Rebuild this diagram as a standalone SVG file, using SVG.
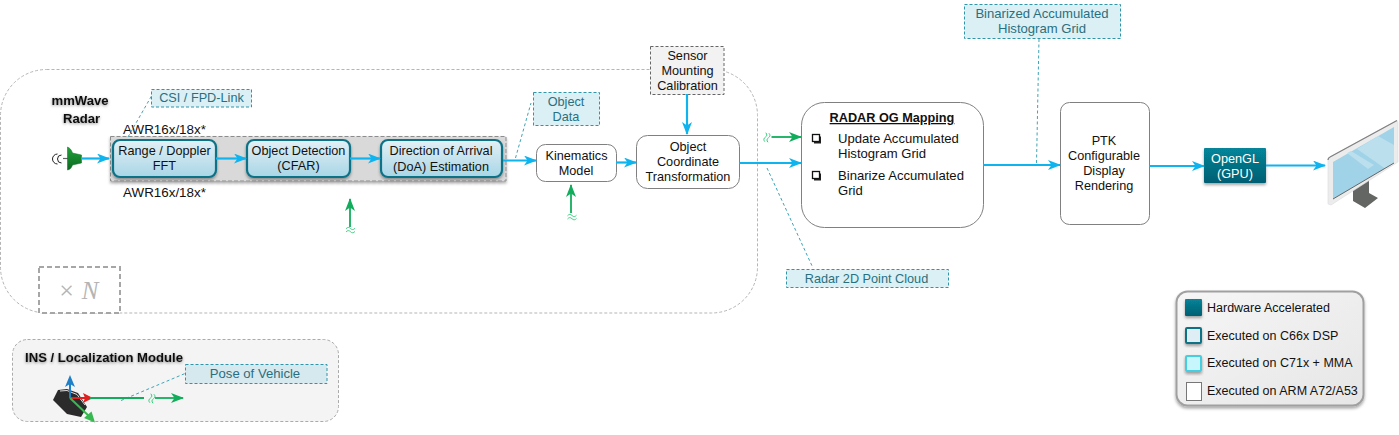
<svg xmlns="http://www.w3.org/2000/svg" width="1399" height="435" viewBox="0 0 1399 435">
<style>
text{font-family:"Liberation Sans",Arial,sans-serif;font-size:12.7px;fill:#111;text-anchor:middle}
.l{text-anchor:start}
.t{fill:#2a6f7f}
.a{font-size:13.4px}
.m{font-size:13.1px}
.k{font-size:12.5px}
.note{fill:#daf0f5;stroke:#2f95a8;stroke-width:1;stroke-dasharray:3 2}
.lead{fill:none;stroke:#3fa3b5;stroke-width:1;stroke-dasharray:3 2.5}
.w{fill:#fff;stroke:#808080;stroke-width:1}
.dsp{fill:url(#dsp);stroke:#0f7286;stroke-width:2.2;filter:url(#sh)}
.c{fill:none;stroke:#0fb4ee;stroke-width:2.2;marker-end:url(#ab)}
.g{fill:none;stroke:#12ad5c;stroke-width:1.8;marker-end:url(#ag)}
.wv{fill:none;stroke:#2fcb78;stroke-width:.9}
.b{font-weight:bold}
</style>
<defs>
<linearGradient id="dsp" x1="0" y1="0" x2="0" y2="1"><stop offset="0" stop-color="#e3f0f5"/><stop offset="1" stop-color="#a8d6e6"/></linearGradient>
<linearGradient id="gpu" x1="0" y1="0" x2="0" y2="1"><stop offset="0" stop-color="#078398"/><stop offset="1" stop-color="#045f72"/></linearGradient>
<linearGradient id="leg" x1="0" y1="0" x2="1" y2="1"><stop offset="0" stop-color="#f6f6f6"/><stop offset="1" stop-color="#e6e6e6"/></linearGradient>
<linearGradient id="horn" x1="0" y1="0" x2="0" y2="1"><stop offset="0" stop-color="#22a03a"/><stop offset="1" stop-color="#0b6a20"/></linearGradient>
<filter id="sh" x="-20%" y="-20%" width="140%" height="150%"><feDropShadow dx="0" dy="2" stdDeviation="1.5" flood-color="#000" flood-opacity=".35"/></filter>
<filter id="ts" x="-10%" y="-30%" width="120%" height="170%"><feDropShadow dx="0" dy="1" stdDeviation="1.5" flood-color="#000" flood-opacity=".45"/></filter>
<marker id="ab" viewBox="0 0 13 10" refX="12" refY="5" markerWidth="13" markerHeight="10" markerUnits="userSpaceOnUse" orient="auto"><path d="M0 0L13 5L0 10L3.500 5Z" fill="#0fb4ee"/></marker>
<marker id="ag" viewBox="0 0 13 10" refX="12" refY="5" markerWidth="13" markerHeight="10" markerUnits="userSpaceOnUse" orient="auto"><path d="M0 0L13 5L0 10L3.500 5Z" fill="#12ad5c"/></marker>
<path id="wave" class="wv" d="M-4.500 -1.200C-3 -3 -1.500 -3 0 -1.500S3 0 4.500 -1.800M-4.500 2C-3 0.200 -1.500 0.200 0 1.700S3 3.200 4.500 1.400"/>
</defs>

<g id="radar-group"><rect x="0.500" y="69.500" width="757" height="243.500" rx="46" fill="#fff" stroke="#b5b5b5" stroke-dasharray="3 2"/></g>
<g id="n-times"><rect x="39" y="267" width="81" height="46" fill="#fff" stroke="#a6a6a6" stroke-width="2" stroke-dasharray="5 3"/><text x="66.500" y="299" style="font-family:'Liberation Serif',serif;font-size:26px;fill:#b4b4b4">×</text><text x="90" y="299" style="font-family:'Liberation Serif',serif;font-size:25px;fill:#b4b4b4;font-style:italic">N</text></g>
<g id="awr-band"><rect x="110.500" y="136.500" width="395.500" height="44.500" fill="#d9d9d9" stroke="#8c8c8c" stroke-dasharray="4 2" filter="url(#sh)"/></g>

<g id="radar"><text x="80" y="105" class="b m" filter="url(#ts)">mmWave</text><text x="81.500" y="123" class="b m" filter="url(#ts)">Radar</text>
<path d="M63 158.500H68" stroke="#666" stroke-width="1.200"/>
<path d="M67.500 147C70 148 71.500 150 72.500 153L81.500 155V163L72.500 165C71.500 168 70 169.500 67.500 170Z" fill="url(#horn)" stroke="#0b6a20" stroke-width=".5"/>
<path d="M57.500 154A5 5 0 0 0 57.500 164M61.500 155A4 4 0 0 0 61.500 163" fill="none" stroke="#222"/></g>
<g id="awr-top"><text x="164.500" y="134" class="a">AWR16x/18x*</text></g>
<g id="awr-bottom"><text x="164.500" y="197" class="a">AWR16x/18x*</text></g>
<g id="range"><rect class="dsp" x="113" y="140" width="103" height="37" rx="7"/><text x="164.500" y="155">Range / Doppler</text><text x="164.500" y="170">FFT</text></g>
<g id="detect"><rect class="dsp" x="247" y="140" width="103" height="37" rx="7"/><text x="298.500" y="155">Object Detection</text><text x="298.500" y="170">(CFAR)</text></g>
<g id="doa"><rect class="dsp" x="381" y="140" width="121" height="37" rx="7"/><text x="441" y="155">Direction of Arrival</text><text x="441" y="171">(DoA) Estimation</text></g>
<g id="kinematics"><rect class="w" x="536.500" y="144.500" width="80" height="37" rx="9"/><text x="576.500" y="160">Kinematics</text><text x="576" y="175">Model</text></g>
<g id="transform"><rect class="w" x="636.500" y="135.500" width="103" height="53" rx="11"/><text x="688" y="151">Object</text><text x="688" y="166">Coordinate</text><text x="688" y="181">Transformation</text></g>
<g id="calibration"><rect x="650.500" y="46.500" width="73.500" height="48" fill="#f2f2f2" stroke="#666" stroke-dasharray="3 2"/><text x="687.500" y="60">Sensor</text><text x="687.500" y="75">Mounting</text><text x="687.500" y="90">Calibration</text></g>
<g id="mapping"><rect class="w" x="801.500" y="102.500" width="182" height="125" rx="23"/>
<text x="892" y="122" class="b" text-decoration="underline">RADAR OG Mapping</text>
<path d="M814 136.500H821V143.500H814Z" fill="#222"/><rect x="812.500" y="134.500" width="7" height="7" fill="#fff" stroke="#111" stroke-width="1.300"/>
<text x="838" y="143" class="l m">Update Accumulated</text><text x="838" y="158" class="l m">Histogram Grid</text>
<path d="M814 173.500H821V180.500H814Z" fill="#222"/><rect x="812.500" y="171.500" width="7" height="7" fill="#fff" stroke="#111" stroke-width="1.300"/>
<text x="838" y="180" class="l m">Binarize Accumulated</text><text x="838" y="195" class="l m">Grid</text></g>
<g id="ptk"><rect class="w" x="1060.500" y="102.500" width="89" height="122" rx="9"/><text x="1104" y="145">PTK</text><text x="1104" y="160">Configurable</text><text x="1104" y="175">Display</text><text x="1104" y="190">Rendering</text></g>
<g id="opengl"><rect x="1204" y="148" width="62" height="35" rx="1" fill="url(#gpu)" filter="url(#sh)"/><text x="1235" y="163" style="fill:#fff">OpenGL</text><text x="1235" y="178" style="fill:#fff">(GPU)</text></g>
<g id="display">
<path d="M1353 188L1369 176V193L1378 198L1365 208L1353 201Z" fill="#646664"/>
<path d="M1328 160Q1328 158 1330 157L1397 120.500L1398 122V162L1331 205L1328 204Z" fill="#ececec" stroke="#dcdcdc" stroke-width=".6"/>
<path d="M1328 160Q1328 158 1330 157L1397 120.500" fill="none" stroke="#808080" stroke-width="1.300"/>
<path d="M1333 162L1394 127V163L1333 199Z" fill="#a0d2e8"/>
<path d="M1357 149L1378 136L1394 145V163L1385 168.500Z" fill="#bbdfed"/>
<path d="M1347 153L1351 151L1374 165L1368 169Z" fill="#bbdfed"/>
<path d="M1333 199L1394 163" fill="none" stroke="#666" stroke-width="1"/>
</g>

<g id="note-csi"><rect class="note" x="151.500" y="89.500" width="100" height="17.500"/><text class="t" x="201.500" y="102">CSI / FPD-Link</text></g>
<g id="note-object"><rect class="note" x="533.500" y="92.500" width="66" height="33"/><text class="t" x="566" y="106">Object</text><text class="t" x="566" y="121">Data</text></g>
<g id="note-cloud"><rect class="note" x="786.500" y="269.500" width="162" height="18"/><text class="t" x="866.500" y="283">Radar 2D Point Cloud</text></g>
<g id="note-grid"><rect class="note" x="964.500" y="4.500" width="156" height="34"/><text class="t m" x="1042" y="18">Binarized Accumulated</text><text class="t m" x="1042" y="33">Histogram Grid</text></g>

<g id="ins"><rect x="12.500" y="339.500" width="326" height="82" rx="15" fill="#f4f4f4" stroke="#aaa" stroke-dasharray="3 2"/>
<text x="104" y="362" class="b m" filter="url(#ts)">INS / Localization Module</text>
<path d="M53 400L58 390L67 389L78 393L87 407L81 417L67 414Z" fill="#2b2b2b"/>
<path d="M60 391L67 390.500L77 394.500L85 405" fill="none" stroke="#ddd" stroke-width="1"/>
</g>
<g id="note-pose"><rect class="note" x="185.500" y="364.500" width="141.500" height="19" style="fill:#d6e9ee"/><text class="t m" x="255" y="378">Pose of Vehicle</text></g>

<g id="connectors">
<path class="lead" d="M128 137L151.500 96"/>
<path class="lead" d="M515.500 158L531 103"/>
<path class="lead" d="M767 168L813 268"/>
<path class="lead" d="M1039 39L1036.500 164"/>
<path class="lead" d="M121 400.500L185 373.500"/>
<path class="c" d="M81 158.500H109"/>
<path class="c" d="M216 158.500H246"/>
<path class="c" d="M350 158.500H380"/>
<path class="c" d="M503 160.500H536"/>
<path class="c" d="M616 162.500H636"/>
<path class="c" d="M687 94V134"/>
<path class="c" d="M739 163H801"/>
<path class="c" d="M983 165H1060"/>
<path class="c" d="M1149 166H1204"/>
<path class="c" d="M1266 165.500H1325"/>
<path class="g" d="M350 227V199"/>
<path class="g" d="M571 213V185"/>
<path class="g" d="M771.500 137H801"/>
<path class="g" d="M155 398H183"/>
<path d="M70 398V379" stroke="#1f80c8" stroke-width="2"/><path d="M70 375L75 387L70 384L65 387Z" fill="#1f80c8"/>
<path d="M70 398H87" stroke="#e02020" stroke-width="2"/><path d="M93 398L83 393L85 398L83 403Z" fill="#e02020"/>
<path d="M90 398H144" stroke="#12ad5c" stroke-width="2"/>
<path d="M70 398L92 419" stroke="#38b850" stroke-width="2"/><path d="M95 422.500L84 418L91.500 411.500Z" fill="#38b850"/>
<use href="#wave" transform="translate(350.500 230)"/>
<use href="#wave" transform="translate(572 217)"/>
<use href="#wave" transform="translate(767 137.500) rotate(100)"/>
<use href="#wave" transform="translate(152 398.500) rotate(100)"/>
</g>

<g id="legend"><rect x="1176.500" y="291.500" width="187" height="114" rx="11" fill="url(#leg)" stroke="#a0a0a0" stroke-width="2" filter="url(#sh)"/>
<rect x="1185" y="299" width="17" height="17" rx="1" fill="url(#gpu)" filter="url(#sh)"/><text class="l k" x="1207" y="312">Hardware Accelerated</text>
<rect x="1186" y="328" width="15" height="15" rx="1" fill="#dfeef4" stroke="#0f7286" stroke-width="2" filter="url(#sh)"/><text class="l k" x="1207" y="340">Executed on C66x DSP</text>
<rect x="1186" y="356" width="15" height="15" rx="1" fill="#c8f6fd" stroke="#44cde0" stroke-width="2" filter="url(#sh)"/><text class="l k" x="1207" y="367">Executed on C71x + MMA</text>
<rect x="1186.500" y="382.500" width="15" height="18" fill="#fff" stroke="#777"/><text class="l k" x="1207" y="395">Executed on ARM A72/A53</text></g>
</svg>
